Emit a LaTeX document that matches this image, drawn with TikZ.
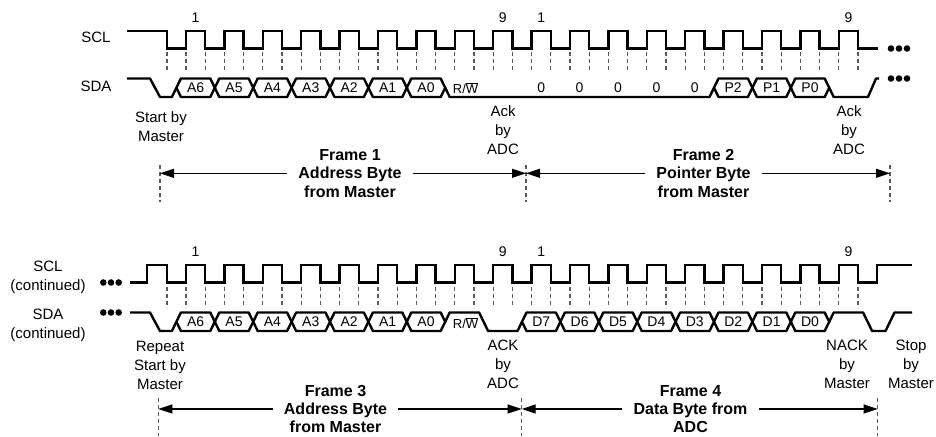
\documentclass[tikz,border=0pt]{standalone}
\usepackage{fontspec}
\setmainfont{Liberation Sans}
\usetikzlibrary{arrows.meta}
\newcommand{\hexbit}[5]{%
  \pgfmathsetmacro{\hxa}{176.4+38.4*#2}%
  \pgfmathsetmacro{\hxb}{\hxa+38.4}%
  \pgfmathsetmacro{\hxm}{(#3+#4)/2}%
  \draw[wave] (\hxa,\hxm) -- (\hxa+4.5,#3) -- (\hxb-4.5,#3) -- (\hxb,\hxm) -- (\hxb-4.5,#4) -- (\hxa+4.5,#4) -- cycle;%
  \node[bitlbl] (#1#2) at ({\hxa+19.2},\hxm) {#5};%
}
\begin{document}
\begin{tikzpicture}[x=1pt,y=-1pt,
  wave/.style={line width=2.4pt, line join=round},
  clk/.style={line width=2.4pt, line join=miter},
  guide/.style={line width=1.2pt, draw=black!65, dash pattern=on 4pt off 3pt},
  bitlbl/.style={font=\fontsize{14}{16}\selectfont, inner sep=0pt},
  rwlbl/.style={font=\fontsize{13}{15}\selectfont, inner sep=0pt},
  numlbl/.style={font=\fontsize{14}{16}\selectfont, inner sep=0pt},
  lbl/.style={font=\fontsize{15}{19}\selectfont, align=center, inner sep=0pt},
  frm/.style={font=\bfseries\fontsize{16}{18.3}\selectfont, align=center, inner xsep=11pt, inner ysep=0pt},
  span/.style={line width=1.2pt, -{Triangle[length=14pt,width=9pt]}},
  dotc/.style={fill=black}
]
\useasboundingbox (0,0) rectangle (936,436);

% ================= TOP ROW =================
% SCL
\draw[clk] (127,31) -- (167,31) -- (167,48.5)
  foreach \k in {0,...,17} { -- ({186+38.4*\k},48.5) -- ({186+38.4*\k},31) -- ({205.2+38.4*\k},31) -- ({205.2+38.4*\k},48.5)}
  -- (878,48.5);
% guides
\draw[guide] (167,52) -- (167,72);
\foreach \k in {0,...,17} {
  \draw[guide] ({186+38.4*\k},52) -- ({186+38.4*\k},72);
  \draw[guide] ({205.2+38.4*\k},52) -- ({205.2+38.4*\k},72);
}
% SDA
\draw[wave] (127,78.5) -- (150,78.5) -- (160,97) -- (171.9,97) -- (176.4,87.75);
\foreach \k/\t in {0/A6,1/A5,2/A4,3/A3,4/A2,5/A1,6/A0} { \hexbit{t}{\k}{78.5}{97}{\t} }
\draw[wave] (445.2,87.75) -- (449.7,97) -- (709.5,97) -- (714,87.75);
\foreach \k/\t in {14/P2,15/P1,16/P0} { \hexbit{t}{\k}{78.5}{97}{\t} }
\draw[wave] (829.2,87.75) -- (833.7,97) -- (868,97) -- (876,78.5) -- (879,78.5);
\node[rwlbl] (trw) at (465.6,88) {R/$\overline{\hbox{W}}$};
\foreach \k in {9,...,13} { \node[bitlbl] (tz\k) at ({195.6+38.4*\k},88) {0}; }
% dots
\foreach \x in {891,899,907} {
  \fill[dotc] (\x,48.5) circle[radius=3.3pt];
  \fill[dotc] (\x,78.5) circle[radius=3.3pt];
}
% numbers
\node[numlbl] (tn1) at (195.6,18) {1};
\node[numlbl] (tn9) at (502.8,18) {9};
\node[numlbl] (tn1b) at (541.2,18) {1};
\node[numlbl] (tn9b) at (848.4,18) {9};
% labels
\node[lbl] (scl1) at (96,37) {SCL};
\node[lbl] (sda1) at (96,86) {SDA};
\node[lbl] (st1) at (161,126.8) {Start by\\Master};
\node[lbl] (ack1) at (503,130) {Ack\\by\\ADC};
\node[lbl] (ack2) at (849,130) {Ack\\by\\ADC};
% frames
\coordinate (f1a) at (160,173.3);
\coordinate (f1b) at (526,173.3);
\coordinate (f2b) at (890,173.3);
\foreach \x/\n in {160/g1,526/g2,890/g3} {
  \coordinate (\n t) at (\x,165);
  \coordinate (\n b) at (\x,202);
  \draw[guide] (\n t) -- (\n b);
}
\node[frm] (fr1) at (350,173.3) {Frame 1\\Address Byte\\from Master};
\node[frm] (fr2) at (703.5,173.3) {Frame 2\\Pointer Byte\\from Master};
\draw[span] (fr1.west) -- (f1a);
\draw[span] (fr1.east) -- (f1b);
\draw[span] (fr2.west) -- (f1b);
\draw[span] (fr2.east) -- (f2b);

% ================= BOTTOM ROW =================
\draw[clk] (130,282.5) -- (147,282.5) -- (147,265) -- (167,265) -- (167,282.5)
  foreach \k in {0,...,17} { -- ({186+38.4*\k},282.5) -- ({186+38.4*\k},265) -- ({205.2+38.4*\k},265) -- ({205.2+38.4*\k},282.5)}
  -- (877,282.5) -- (877,265) -- (912,265);
\draw[guide] (167,286.5) -- (167,307.5);
\foreach \k in {0,...,17} {
  \draw[guide] ({186+38.4*\k},286.5) -- ({186+38.4*\k},307.5);
  \draw[guide] ({205.2+38.4*\k},286.5) -- ({205.2+38.4*\k},307.5);
}
\draw[wave] (130,312.5) -- (150,312.5) -- (160,331) -- (171.9,331) -- (176.4,321.75);
\foreach \k/\t in {0/A6,1/A5,2/A4,3/A3,4/A2,5/A1,6/A0} { \hexbit{b}{\k}{312.5}{331}{\t} }
\draw[wave] (445.2,321.75) -- (449.7,312.5) -- (479.1,312.5) -- (488.1,331) -- (517.5,331) -- (522,321.75);
\foreach \k/\t in {9/D7,10/D6,11/D5,12/D4,13/D3,14/D2,15/D1,16/D0} { \hexbit{b}{\k}{312.5}{331}{\t} }
\draw[wave] (829.2,321.75) -- (833.7,312.5) -- (863.1,312.5) -- (872.1,331) -- (885.5,331) -- (894.5,312.5) -- (912,312.5);
\node[rwlbl] (brw) at (465.6,323) {R/$\overline{\hbox{W}}$};
\foreach \x in {103.3,111,118.7} {
  \fill[dotc] (\x,282.5) circle[radius=3.3pt];
  \fill[dotc] (\x,312.5) circle[radius=3.3pt];
}
\node[numlbl] (bn1) at (195.6,252) {1};
\node[numlbl] (bn9) at (502.8,252) {9};
\node[numlbl] (bn1b) at (541.2,252) {1};
\node[numlbl] (bn9b) at (848.4,252) {9};
\node[lbl] (scl2) at (48,277) {SCL\\(continued)};
\node[lbl] (sda2) at (48,325.6) {SDA\\(continued)};
\node[lbl] (rs) at (160,365) {Repeat\\Start by\\Master};
\node[lbl] (ack3) at (503,364) {ACK\\by\\ADC};
\node[lbl] (nack) at (847,364) {NACK\\by\\Master};
\node[lbl] (stop) at (911,364) {Stop\\by\\Master};
\coordinate (f3a) at (158.3,409);
\coordinate (f3b) at (521.7,409);
\coordinate (f4b) at (877.7,409);
\foreach \x/\n in {158.3/h1,521.7/h2,877.7/h3} {
  \coordinate (\n t) at (\x,398);
  \coordinate (\n b) at (\x,436);
  \draw[guide] (\n t) -- (\n b);
}
\node[frm] (fr3) at (335.5,409) {Frame 3\\Address Byte\\from Master};
\node[frm] (fr4) at (690.5,409) {Frame 4\\Data Byte from\\ADC};
\draw[span] (fr3.west) -- (f3a);
\draw[span] (fr3.east) -- (f3b);
\draw[span] (fr4.west) -- (f3b);
\draw[span] (fr4.east) -- (f4b);
\end{tikzpicture}
\end{document}
